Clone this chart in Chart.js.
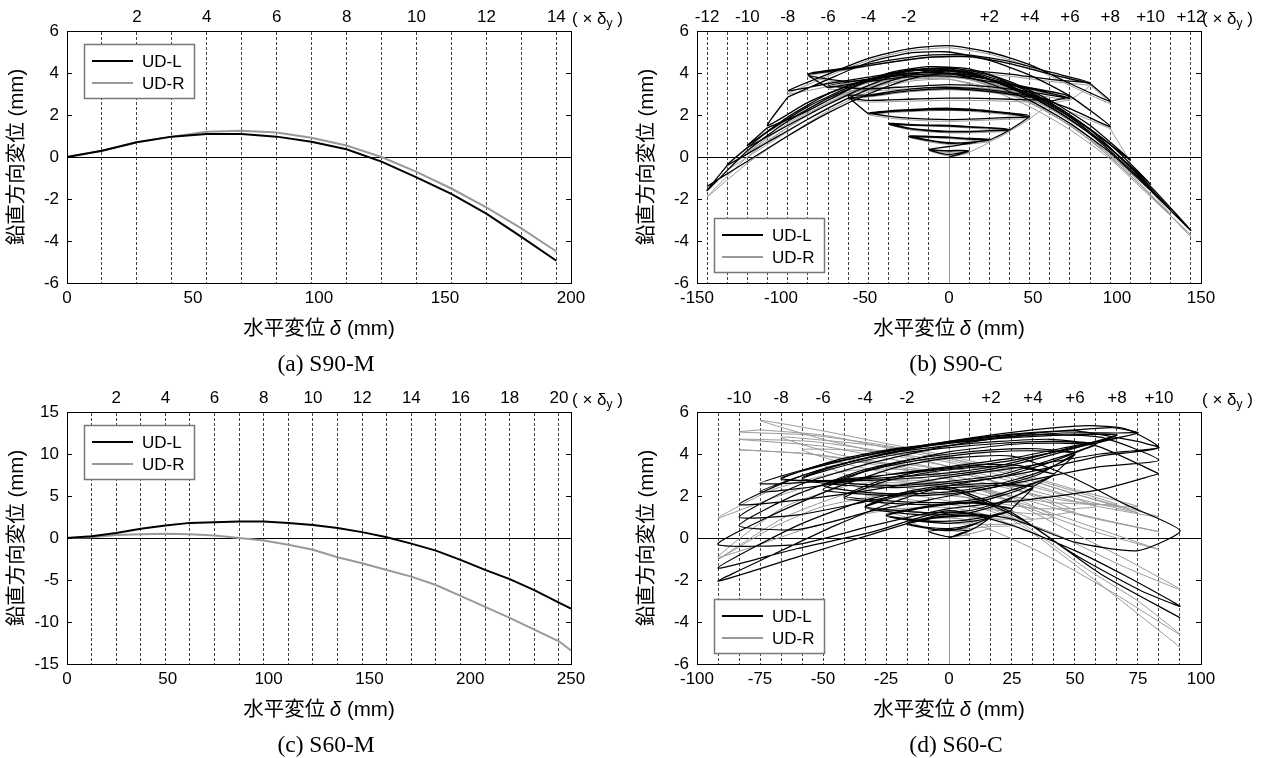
<!DOCTYPE html>
<html>
<head>
<meta charset="utf-8">
<script src="https://cdn.jsdelivr.net/npm/chart.js@4.4.1/dist/chart.umd.min.js"></script>
<style>
  body { margin: 0; background: #fff; width: 1271px; height: 758px; overflow: hidden; position: relative; }
  canvas { position: absolute; }
</style>
</head>
<body>
<canvas id="ca" width="630" height="377" style="left:0;top:0"></canvas>
<canvas id="cb" width="630" height="377" style="left:630px;top:0"></canvas>
<canvas id="cc" width="630" height="377" style="left:0;top:381px"></canvas>
<canvas id="cd" width="630" height="377" style="left:630px;top:381px"></canvas>
<script>
const seriesNames = ['UD-L', 'UD-R'];

// (a) S90-M, monotonic loading
const s90mDelta = [0, 13.9, 27.7, 41.6, 55.4, 69.3, 83.2, 97.0, 110.9, 124.8, 138.7, 152.5, 166.4, 180.3, 194.2];
const s90mL = [0, 0.3, 0.7, 0.97, 1.1, 1.1, 0.97, 0.73, 0.37, -0.22, -0.97, -1.76, -2.7, -3.8, -4.94];
const s90mR = [0, 0.3, 0.7, 0.97, 1.2, 1.25, 1.17, 0.92, 0.55, 0.0, -0.71, -1.5, -2.4, -3.4, -4.5];
const s90mDy = 13.87;
const s90mMult = [1, 2, 3, 4, 5, 6, 7, 8, 9, 10, 11, 12, 13, 14];
const s90mTop = ['', '2', '', '4', '', '6', '', '8', '', '10', '', '12', '', '14'];

// (c) S60-M, monotonic loading
const s60mDelta = [0, 12.2, 24.4, 36.6, 48.8, 61, 73.2, 85.4, 97.6, 109.8, 122, 134.2, 146.4, 158.6, 170.8, 183, 195.2, 207.4, 219.6, 231.8, 244, 250];
const s60mL = [0, 0.2, 0.6, 1.1, 1.5, 1.8, 1.87, 1.95, 1.95, 1.8, 1.55, 1.2, 0.7, 0.1, -0.67, -1.5, -2.6, -3.8, -4.9, -6.2, -7.7, -8.4];
const s60mR = [0, 0.1, 0.35, 0.45, 0.5, 0.45, 0.3, 0.0, -0.3, -0.8, -1.4, -2.3, -3.0, -3.8, -4.6, -5.6, -6.9, -8.2, -9.5, -10.9, -12.3, -13.4];
const s60mDy = 12.2;
const s60mMult = [1, 2, 3, 4, 5, 6, 7, 8, 9, 10, 11, 12, 13, 14, 15, 16, 17, 18, 19, 20];
const s60mTop = ['', '2', '', '4', '', '6', '', '8', '', '10', '', '12', '', '14', '', '16', '', '18', '', '20'];

// (b) S90-C, cyclic loading: one list per amplitude step, points [delta, v]
const s90cL = [
  [[0,0],[6,0.12],[12,0.28],[6,0.3],[0,0.28],[-6,0.3],[-12,0.35],[-6,0.2],[0,0.12],[6,0.18],[12,0.3],[6,0.32],[0,0.3],[-6,0.32],[-12,0.36]],
  [[-12,0.36],[0,0.5],[12,0.65],[24,0.85],[12,0.88],[0,0.95],[-12,0.98],[-24,1.0],[-12,0.8],[0,0.68],[12,0.7],[24,0.82],[12,0.85],[0,0.92],[-12,0.95],[-24,0.97],[-12,0.78],[0,0.65],[12,0.68],[24,0.8]],
  [[24,0.8],[36,1.3],[24,1.4],[12,1.45],[0,1.5],[-12,1.52],[-24,1.55],[-36,1.6],[-24,1.38],[-12,1.28],[0,1.22],[12,1.22],[24,1.25],[36,1.3],[24,1.38],[12,1.42],[0,1.47],[-12,1.5],[-24,1.52],[-36,1.56],[-24,1.35],[-12,1.25],[0,1.2],[12,1.2],[24,1.24],[36,1.28]],
  [[36,1.28],[48,1.95],[36,2.1],[24,2.2],[12,2.28],[0,2.32],[-12,2.3],[-24,2.25],[-36,2.2],[-48,2.1],[-36,1.95],[-24,1.85],[-12,1.8],[0,1.78],[12,1.8],[24,1.84],[36,1.88],[48,1.9],[36,2.05],[24,2.15],[12,2.22],[0,2.25],[-12,2.24],[-24,2.2],[-36,2.15],[-48,2.05]],
  [[-48,2.05],[-60,2.9],[-48,2.95],[-36,3.1],[-24,3.22],[-12,3.3],[0,3.32],[12,3.28],[24,3.2],[36,3.08],[48,2.92],[60,2.72],[48,2.72],[36,2.75],[24,2.78],[12,2.8],[0,2.8],[-12,2.78],[-24,2.75],[-36,2.72],[-48,2.7],[-60,2.8],[-48,2.9],[-24,3.15],[0,3.25],[24,3.12],[48,2.85],[60,2.65]],
  [[60,2.65],[72,2.9],[48,3.3],[24,3.7],[0,3.95],[-24,3.9],[-48,3.7],[-72,3.4],[-48,3.25],[-24,3.35],[0,3.45],[24,3.35],[48,3.1],[72,2.8],[48,3.25],[24,3.6],[0,3.85],[-24,3.82],[-48,3.6],[-72,3.3]],
  [[-72,3.3],[-84,3.95],[-60,4.25],[-36,4.6],[-12,4.85],[12,4.85],[36,4.55],[60,4.05],[84,3.55],[60,3.7],[36,3.95],[12,4.1],[-12,4.05],[-36,3.85],[-60,3.6],[-84,3.9],[-60,4.2],[-36,4.5],[-12,4.75],[12,4.78],[36,4.45],[60,3.95],[84,3.5]],
  [[84,3.5],[96,2.65],[72,3.5],[48,4.4],[24,5.0],[0,5.3],[-24,5.15],[-48,4.7],[-72,3.95],[-96,3.15],[-72,3.5],[-48,3.8],[-24,4.1],[0,4.1],[24,3.7],[48,3.0],[72,2.3],[96,1.45],[72,2.9],[48,3.9],[24,4.6],[0,5.0],[-24,4.95],[-48,4.5],[-72,3.7],[-96,2.85]],
  [[-96,2.85],[-108,1.5],[-84,2.6],[-60,3.4],[-36,3.95],[-12,4.2],[12,4.0],[36,3.4],[60,2.5],[84,1.3],[108,-0.15],[84,1.5],[60,2.7],[36,3.6],[12,4.2],[-12,4.3],[-36,4.0],[-60,3.2],[-84,2.2],[-108,1.4]],
  [[-108,1.4],[-120,0.55],[-96,1.9],[-72,3.0],[-48,3.7],[-24,4.15],[0,4.2],[24,3.7],[48,2.9],[72,1.8],[96,0.4],[120,-1.3],[96,0.6],[72,2.0],[48,3.1],[24,3.9],[0,4.25],[-24,4.1],[-48,3.4],[-72,2.5],[-96,1.5],[-120,0.45]],
  [[-120,0.45],[-132,-0.35],[-108,1.2],[-84,2.4],[-60,3.3],[-36,3.9],[-12,4.2],[12,4.0],[36,3.3],[60,2.4],[84,1.1],[108,-0.6],[132,-2.5],[108,-0.5],[84,1.3],[60,2.6],[36,3.5],[12,4.05],[-12,4.1],[-36,3.6],[-60,2.8],[-84,1.8],[-108,0.7],[-132,-0.4]],
  [[-132,-0.4],[-144,-1.6],[-120,0.3],[-96,1.7],[-72,2.8],[-48,3.6],[-24,4.0],[0,4.0],[24,3.5],[48,2.7],[72,1.6],[96,0.2],[120,-1.6],[144,-3.5],[120,-1.4],[96,0.4],[72,1.9],[48,3.0],[24,3.7],[0,4.0],[-24,3.7],[-48,3.0],[-72,2.1],[-96,1.0],[-120,-0.2],[-144,-1.4]]
];
const s90cR = [
  [[0,0],[6,0.08],[12,0.2],[6,0.24],[0,0.22],[-6,0.24],[-12,0.3],[-6,0.15],[0,0.06],[6,0.12],[12,0.22]],
  [[12,0.22],[24,0.72],[12,0.8],[0,0.88],[-12,0.92],[-24,0.95],[-12,0.72],[0,0.6],[12,0.62],[24,0.72]],
  [[24,0.72],[36,1.22],[24,1.32],[12,1.38],[0,1.44],[-12,1.47],[-24,1.5],[-36,1.55],[-24,1.3],[-12,1.2],[0,1.15],[12,1.15],[24,1.18],[36,1.22]],
  [[36,1.22],[48,1.85],[36,2.0],[24,2.1],[12,2.18],[0,2.22],[-12,2.2],[-24,2.16],[-36,2.1],[-48,2.02],[-36,1.86],[-24,1.77],[-12,1.72],[0,1.7],[12,1.72],[24,1.76],[36,1.8],[48,1.82]],
  [[48,1.82],[60,2.6],[48,2.78],[24,3.08],[0,3.2],[-24,3.1],[-48,2.85],[-60,2.75],[-48,2.62],[-24,2.66],[0,2.7],[24,2.68],[48,2.62],[60,2.55]],
  [[60,2.55],[72,2.75],[48,3.2],[24,3.6],[0,3.85],[-24,3.8],[-48,3.55],[-72,3.25],[-48,3.15],[-24,3.25],[0,3.35],[24,3.25],[48,3.0],[72,2.7]],
  [[72,2.7],[84,3.45],[60,3.95],[36,4.45],[12,4.75],[-12,4.75],[-36,4.5],[-60,4.15],[-84,3.85],[-60,3.5],[-36,3.75],[-12,3.95],[12,4.0],[36,3.85],[60,3.6],[84,3.42]],
  [[84,3.42],[96,2.55],[72,3.4],[48,4.3],[24,4.9],[0,5.2],[-24,5.05],[-48,4.6],[-72,3.85],[-96,3.0],[-72,3.35],[-48,3.65],[-24,3.95],[0,3.95],[24,3.55],[48,2.85],[72,2.15],[96,1.35]],
  [[96,1.35],[108,-0.35],[84,1.1],[60,2.3],[36,3.25],[12,3.85],[-12,4.05],[-36,3.8],[-60,3.2],[-84,2.2],[-108,1.2],[-84,2.3],[-60,3.1],[-36,3.7],[-12,4.0],[12,3.8],[36,3.2],[60,2.3],[84,1.1],[108,-0.4]],
  [[108,-0.4],[120,-1.5],[96,0.2],[72,1.6],[48,2.7],[24,3.5],[0,3.95],[-24,3.9],[-48,3.4],[-72,2.6],[-96,1.4],[-120,0.2],[-96,1.6],[-72,2.7],[-48,3.4],[-24,3.85],[0,3.9],[24,3.4],[48,2.6],[72,1.5],[96,0.1],[120,-1.6]],
  [[120,-1.6],[132,-2.75],[108,-0.8],[84,0.9],[60,2.2],[36,3.1],[12,3.7],[-12,3.8],[-36,3.5],[-60,2.8],[-84,1.8],[-108,0.6],[-132,-0.6],[-108,0.9],[-84,2.1],[-60,3.0],[-36,3.6],[-12,3.9],[12,3.7],[36,3.0],[60,2.1],[84,0.8],[108,-0.9],[132,-2.8]],
  [[132,-2.8],[144,-3.8],[120,-1.8],[96,0.0],[72,1.5],[48,2.6],[24,3.3],[0,3.7],[-24,3.6],[-48,3.1],[-72,2.2],[-96,1.0],[-120,-0.3],[-144,-1.9],[-120,0.0],[-96,1.4],[-72,2.5],[-48,3.3],[-24,3.7],[0,3.7],[24,3.2],[48,2.4],[72,1.3],[96,-0.1],[120,-1.9],[144,-3.7]]
];
const s90cDy = 12.0;
const s90cMult = [-12, -11, -10, -9, -8, -7, -6, -5, -4, -3, -2, -1, 1, 2, 3, 4, 5, 6, 7, 8, 9, 10, 11, 12];
const s90cTop = ['-12', '', '-10', '', '-8', '', '-6', '', '-4', '', '-2', '', '', '+2', '', '+4', '', '+6', '', '+8', '', '+10', '', '+12'];

// (d) S60-C, cyclic loading
const s60cL = [
  [[0,0],[4,0.2],[8.3,0.35],[4,0.15],[0,0.05],[-4,0.15],[-8.3,0.3],[-4,0.38],[0,0.4],[4,0.38],[8.3,0.35]],
  [[8.3,0.35],[12,0.6],[16.7,1.0],[8,0.55],[0,0.35],[-8,0.45],[-16.7,0.65],[-8,0.9],[0,1.0],[8,1.05],[16.7,1.0],[8,0.6],[0,0.45],[-8,0.5],[-16.7,0.7],[-8,0.95],[0,1.05],[8,1.1],[16.7,1.05]],
  [[16.7,1.05],[25,1.3],[12,0.85],[0,0.7],[-12,0.8],[-25,1.05],[-12,1.4],[0,1.6],[12,1.65],[25,1.35],[12,0.95],[0,0.8],[-12,0.85],[-25,1.1],[-12,1.45],[0,1.65],[12,1.7],[25,1.4]],
  [[25,1.4],[33.3,2.4],[20,1.6],[8,1.2],[-8,1.1],[-20,1.2],[-33.3,1.45],[-20,2.0],[-8,2.3],[8,2.45],[20,2.5],[33.3,2.4],[20,1.7],[8,1.3],[-8,1.2],[-20,1.3],[-33.3,1.5],[-20,2.1],[-8,2.4],[8,2.55],[20,2.6],[33.3,2.45]],
  [[33.3,2.45],[41.7,3.0],[28,2.3],[14,1.8],[0,1.6],[-14,1.6],[-28,1.7],[-41.7,1.9],[-28,2.6],[-14,3.0],[0,3.25],[14,3.4],[28,3.35],[41.7,3.0],[28,2.4],[14,1.9],[0,1.7],[-14,1.7],[-28,1.8],[-41.7,2.0],[-28,2.7],[-14,3.1],[0,3.35],[14,3.5],[28,3.45],[41.7,3.05]],
  [[41.7,3.05],[50,4.0],[35,3.0],[17,2.4],[0,2.1],[-17,2.0],[-35,2.1],[-50,2.3],[-35,3.1],[-17,3.6],[0,3.9],[17,4.1],[35,4.15],[50,4.0],[35,3.1],[17,2.5],[0,2.2],[-17,2.1],[-35,2.2],[-50,2.5],[-35,3.2],[-17,3.7],[0,4.0],[17,4.2],[35,4.25],[50,4.1]],
  [[50,4.1],[58.3,4.45],[40,3.6],[20,2.9],[0,2.6],[-20,2.4],[-40,2.5],[-58.3,2.8],[-40,3.5],[-20,4.0],[0,4.3],[20,4.5],[40,4.6],[58.3,4.45],[40,3.7],[20,3.0],[0,2.7],[-20,2.5],[-40,2.6],[-58.3,2.85],[-40,3.6],[-20,4.1],[0,4.4],[20,4.6],[40,4.7],[58.3,4.5]],
  [[58.3,4.5],[66.7,4.9],[45,4.1],[22,3.4],[0,3.0],[-22,2.8],[-45,2.7],[-66.7,2.85],[-45,3.6],[-22,4.2],[0,4.5],[22,4.75],[45,4.9],[66.7,4.9],[45,4.2],[22,3.5],[0,3.1],[-22,2.9],[-45,2.75],[-66.7,2.8],[-45,3.7],[-22,4.25],[0,4.55],[22,4.8],[45,5.0],[66.7,5.0]],
  [[66.7,5.0],[75,5.0],[50,4.3],[25,3.7],[0,3.3],[-25,3.0],[-50,2.7],[-75,2.6],[-50,3.5],[-25,4.1],[0,4.6],[25,4.95],[50,5.15],[65,5.25],[75,5.0],[50,4.4],[25,3.8],[0,3.4],[-25,3.0],[-50,2.5],[-75,2.2],[-50,3.3],[-25,4.0],[0,4.55],[25,4.9],[50,5.1],[75,4.6]],
  [[75,4.6],[83.3,4.3],[60,4.0],[30,3.4],[0,2.9],[-30,2.3],[-60,1.8],[-83.3,1.6],[-60,2.9],[-30,3.9],[0,4.6],[30,5.1],[55,5.35],[70,5.2],[83.3,4.3],[60,3.9],[30,3.1],[0,2.5],[-30,1.8],[-60,1.1],[-83.3,1.0],[-60,2.5],[-30,3.6],[0,4.4],[30,4.9],[60,4.8],[83.3,3.7],[60,3.4],[30,2.7],[0,2.0],[-30,1.3],[-60,0.4],[-83.3,0.6],[-60,2.1],[-30,3.3],[0,4.1],[30,4.5],[58,4.4],[83.3,3.06]],
  [[83.3,3.06],[60,2.3],[30,1.8],[0,1.4],[-30,0.6],[-60,-0.3],[-91.7,-0.3],[-70,1.1],[-45,2.4],[-20,3.4],[0,3.8],[25,3.9],[48,2.94],[70,1.6],[91.7,0.35],[75,-0.6],[50,-0.2],[25,0.9],[0,1.2],[-30,0.2],[-60,-0.9],[-91.7,-2.06],[-70,-0.8],[-45,0.6],[-20,1.8],[0,2.4],[25,1.2],[50,-0.8],[76,-2.5],[91.7,-3.25],[70,-1.8],[50,-0.6],[25,0.6],[0,1.3],[-30,0.3],[-60,-0.5],[-91.7,-1.43],[-60,0.6],[-30,1.9],[0,2.3],[30,0.8],[60,-1.7],[91.7,-3.8]]
];
const s60cR = [
  [[0,0],[4,0.1],[8.3,0.15],[4,0.3],[0,0.35],[-4,0.38],[-8.3,0.35],[-4,0.15],[0,0.05],[4,0.1],[8.3,0.2]],
  [[8.3,0.2],[16.7,0.5],[8,0.85],[0,0.95],[-8,0.95],[-16.7,0.85],[-8,0.45],[0,0.4],[8,0.45],[16.7,0.55]],
  [[16.7,0.55],[25,0.6],[12,1.2],[0,1.45],[-12,1.45],[-25,1.3],[-12,0.85],[0,0.7],[12,0.65],[25,0.65]],
  [[25,0.65],[33.3,0.85],[20,1.5],[8,1.9],[-8,2.1],[-20,2.1],[-33.3,2.0],[-20,1.4],[-8,1.2],[8,1.0],[20,0.9],[33.3,0.9]],
  [[33.3,0.9],[41.7,1.0],[28,1.8],[14,2.3],[0,2.6],[-14,2.75],[-28,2.75],[-41.7,2.7],[-28,2.1],[-14,1.8],[0,1.6],[14,1.4],[28,1.2],[41.7,1.1]],
  [[41.7,1.1],[50,1.3],[35,2.0],[17,2.7],[0,3.2],[-17,3.5],[-35,3.6],[-50,3.5],[-35,2.8],[-17,2.4],[0,2.1],[17,1.7],[35,1.4],[50,1.4]],
  [[50,1.4],[58.3,1.5],[40,2.3],[20,3.0],[0,3.6],[-20,4.0],[-40,4.2],[-58.3,4.2],[-40,3.5],[-20,3.0],[0,2.6],[20,2.1],[40,1.7],[58.3,1.6]],
  [[58.3,1.6],[66.7,1.6],[45,2.4],[22,3.2],[0,3.8],[-22,4.3],[-45,4.6],[-66.7,4.8],[-45,4.0],[-22,3.5],[0,3.0],[22,2.4],[45,1.8],[66.7,1.5]],
  [[66.7,1.5],[75,1.5],[50,2.3],[25,3.2],[0,3.9],[-25,4.5],[-50,5.1],[-75,5.6],[-50,4.7],[-25,4.0],[0,3.4],[25,2.7],[50,1.9],[75,1.2],[50,2.1],[25,3.0],[0,3.7],[-25,4.3],[-50,4.9],[-75,5.15]],
  [[-75,5.15],[-83.3,5.05],[-55,4.9],[-25,4.4],[0,3.8],[25,3.0],[50,2.1],[83.3,1.0],[55,1.6],[25,2.5],[0,3.2],[-25,3.8],[-50,4.37],[-83.3,4.7],[-55,4.6],[-25,4.1],[0,3.4],[25,2.4],[50,1.2],[83.3,0.3],[55,1.0],[25,2.0],[0,2.8],[-30,3.5],[-55,4.0],[-83.3,4.2],[-55,4.0],[-25,3.5],[0,2.8],[30,1.5],[55,0.4],[83.3,-0.55]],
  [[83.3,-0.55],[60,0.4],[30,1.6],[0,2.4],[-30,2.8],[-60,2.3],[-91.7,0.95],[-70,2.3],[-40,3.2],[-10,3.2],[20,2.0],[50,0.2],[70,-1.0],[91.7,-2.45],[70,-1.4],[40,0.3],[10,1.5],[-20,2.1],[-50,1.5],[-70,0.5],[-91.7,-1.03],[-65,1.0],[-35,2.3],[-5,2.6],[25,1.0],[55,-1.5],[75,-3.0],[91.7,-4.6],[65,-2.6],[35,-0.6],[5,0.9],[-25,1.3],[-55,0.5],[-75,-0.3],[-91.7,-0.9],[-65,1.5],[-35,2.6],[0,2.4],[30,0.5],[60,-2.2],[91.7,-5.2]]
];
const s60cDy = 8.33;
const s60cMult = [-11, -10, -9, -8, -7, -6, -5, -4, -3, -2, -1, 1, 2, 3, 4, 5, 6, 7, 8, 9, 10, 11];
const s60cTop = ['', '-10', '', '-8', '', '-6', '', '-4', '', '-2', '', '', '+2', '', '+4', '', '+6', '', '+8', '', '+10', ''];

const SANS = '"Liberation Sans", Arial, sans-serif';
const CJK = '"Noto Sans CJK JP", sans-serif';
Chart.defaults.font.family = SANS;
Chart.defaults.font.size = 17;
Chart.defaults.color = '#000';

function curve(xs, ys, color) {
  return { data: xs.map((x, i) => ({ x: x, y: ys[i] })), borderColor: color, borderWidth: 2,
           showLine: true, pointRadius: 0, tension: 0 };
}
function loops(list, color, w) {
  return list.map(l => ({ data: l.map(p => ({ x: p[0], y: p[1] })), borderColor: color, borderWidth: w,
           showLine: true, pointRadius: 0, tension: 0.2 }));
}

function drawParts(ctx, parts, x, y) {
  parts.forEach(p => {
    ctx.font = p[1];
    ctx.fillText(p[0], x, y + (p[2] || 0));
    x += ctx.measureText(p[0]).width;
  });
}
function partsWidth(ctx, parts) {
  let w = 0;
  parts.forEach(p => { ctx.font = p[1]; w += ctx.measureText(p[0]).width; });
  return w;
}

function deco(p) {
  return {
    id: 'deco',
    afterDraw(chart) {
      const ctx = chart.ctx, a = chart.chartArea, ys = chart.scales.y;
      ctx.save();
      // inward tick marks on both sides
      ctx.strokeStyle = '#000';
      ctx.lineWidth = 1;
      ys.ticks.forEach(t => {
        const py = Math.round(ys.getPixelForValue(t.value)) + 0.5;
        ctx.beginPath();
        ctx.moveTo(a.left, py); ctx.lineTo(a.left + 5, py);
        ctx.moveTo(a.right - 5, py); ctx.lineTo(a.right, py);
        ctx.stroke();
      });
      ctx.fillStyle = '#000';
      ctx.textBaseline = 'alphabetic';
      ctx.textAlign = 'left';
      // x title
      const xt = [['水平変位 ', '20.5px ' + CJK], ['δ', 'italic 20.5px ' + SANS], [' (mm)', '20.5px ' + SANS]];
      drawParts(ctx, xt, (a.left + a.right) / 2 - partsWidth(ctx, xt) / 2, a.bottom + 52);
      // y title
      const yt = [['鉛直方向変位', '20.5px ' + CJK], [' (mm)', '20.5px ' + SANS]];
      ctx.save();
      ctx.translate(23, (a.top + a.bottom) / 2);
      ctx.rotate(-Math.PI / 2);
      drawParts(ctx, yt, -partsWidth(ctx, yt) / 2, 0);
      ctx.restore();
      // caption
      ctx.font = '23.5px "Liberation Serif", serif';
      ctx.textAlign = 'center';
      ctx.fillText(p.caption, (a.left + a.right) / 2 + 7, a.bottom + 88);
      ctx.textAlign = 'left';
      // multiplier unit
      drawParts(ctx, [['( × ', '17px ' + SANS], ['δ', '17px ' + SANS], ['y', '12px ' + SANS, 3], [' )', '17px ' + SANS]],
                a.right + 1, a.top - 7);
      // legend
      const bw = 110, bh = 54, bx = a.left + 17;
      const by = p.legendTop ? a.top + 13 : a.bottom - 11 - bh;
      ctx.fillStyle = '#fff';
      ctx.fillRect(bx, by, bw, bh);
      ctx.strokeStyle = '#777';
      ctx.lineWidth = 1.5;
      ctx.strokeRect(bx + 0.5, by + 0.5, bw, bh);
      ['#000', '#999'].forEach((c, i) => {
        const ry = by + 17 + i * 22;
        ctx.strokeStyle = c;
        ctx.lineWidth = 2;
        ctx.beginPath(); ctx.moveTo(bx + 8, ry); ctx.lineTo(bx + 49, ry); ctx.stroke();
        ctx.fillStyle = '#000';
        ctx.font = '17px ' + SANS;
        ctx.textBaseline = 'middle';
        ctx.fillText(seriesNames[i], bx + 58, ry + 1);
      });
      ctx.restore();
    }
  };
}

function build(id, p) {
  new Chart(document.getElementById(id), {
    type: 'scatter',
    data: { datasets: p.datasets },
    options: {
      responsive: false,
      animation: false,
      layout: { padding: { left: 0, right: 59, top: 0, bottom: 0 } },
      plugins: { legend: { display: false }, tooltip: { enabled: false } },
      scales: {
        x: {
          type: 'linear', position: 'bottom', min: p.xMin, max: p.xMax,
          ticks: { stepSize: p.xStep, padding: 5, maxRotation: 0, autoSkip: false },
          grid: { drawTicks: false, color: c => (p.zeroV && c.tick && c.tick.value === 0) ? '#999' : 'rgba(0,0,0,0)' },
          border: { color: '#000' },
          afterFit: s => { s.height = 94; }
        },
        x2: {
          type: 'linear', position: 'top', min: p.xMin, max: p.xMax,
          afterBuildTicks: s => { s.ticks = p.mult.map(k => ({ value: k * p.dy })); },
          ticks: { callback: (v, i) => p.top[i], padding: 3, maxRotation: 0, autoSkip: false },
          grid: { drawTicks: false, color: '#444' },
          border: { color: '#000', dash: [3, 2] },
          afterFit: s => { s.height = 31; }
        },
        y: {
          type: 'linear', position: 'left', min: p.yMin, max: p.yMax,
          ticks: { stepSize: p.yStep, padding: 8 },
          grid: { drawTicks: false, color: c => (c.tick && c.tick.value === 0) ? '#000' : 'rgba(0,0,0,0)' },
          border: { color: '#000' },
          afterFit: s => { s.width = 67; }
        },
        y2: {
          type: 'linear', position: 'right', min: p.yMin, max: p.yMax,
          ticks: { display: false },
          grid: { display: false },
          border: { display: true, color: '#000' },
          afterFit: s => { s.width = 0; }
        }
      }
    },
    plugins: [deco(p)]
  });
}

build('ca', {
  xMin: 0, xMax: 200, xStep: 50, yMin: -6, yMax: 6, yStep: 2,
  dy: s90mDy, mult: s90mMult, top: s90mTop, zeroV: false, legendTop: true, caption: '(a) S90-M',
  datasets: [curve(s90mDelta, s90mL, '#000'), curve(s90mDelta, s90mR, '#999')]
});
build('cb', {
  xMin: -150, xMax: 150, xStep: 50, yMin: -6, yMax: 6, yStep: 2,
  dy: s90cDy, mult: s90cMult, top: s90cTop, zeroV: true, legendTop: false, caption: '(b) S90-C',
  datasets: loops(s90cL, '#000', 1.3).concat(loops(s90cR, '#999', 1))
});
build('cc', {
  xMin: 0, xMax: 250, xStep: 50, yMin: -15, yMax: 15, yStep: 5,
  dy: s60mDy, mult: s60mMult, top: s60mTop, zeroV: false, legendTop: true, caption: '(c) S60-M',
  datasets: [curve(s60mDelta, s60mL, '#000'), curve(s60mDelta, s60mR, '#999')]
});
build('cd', {
  xMin: -100, xMax: 100, xStep: 25, yMin: -6, yMax: 6, yStep: 2,
  dy: s60cDy, mult: s60cMult, top: s60cTop, zeroV: true, legendTop: false, caption: '(d) S60-C',
  datasets: loops(s60cL, '#000', 1.2).concat(loops(s60cR, '#999', 1))
});
</script>
</body>
</html>
